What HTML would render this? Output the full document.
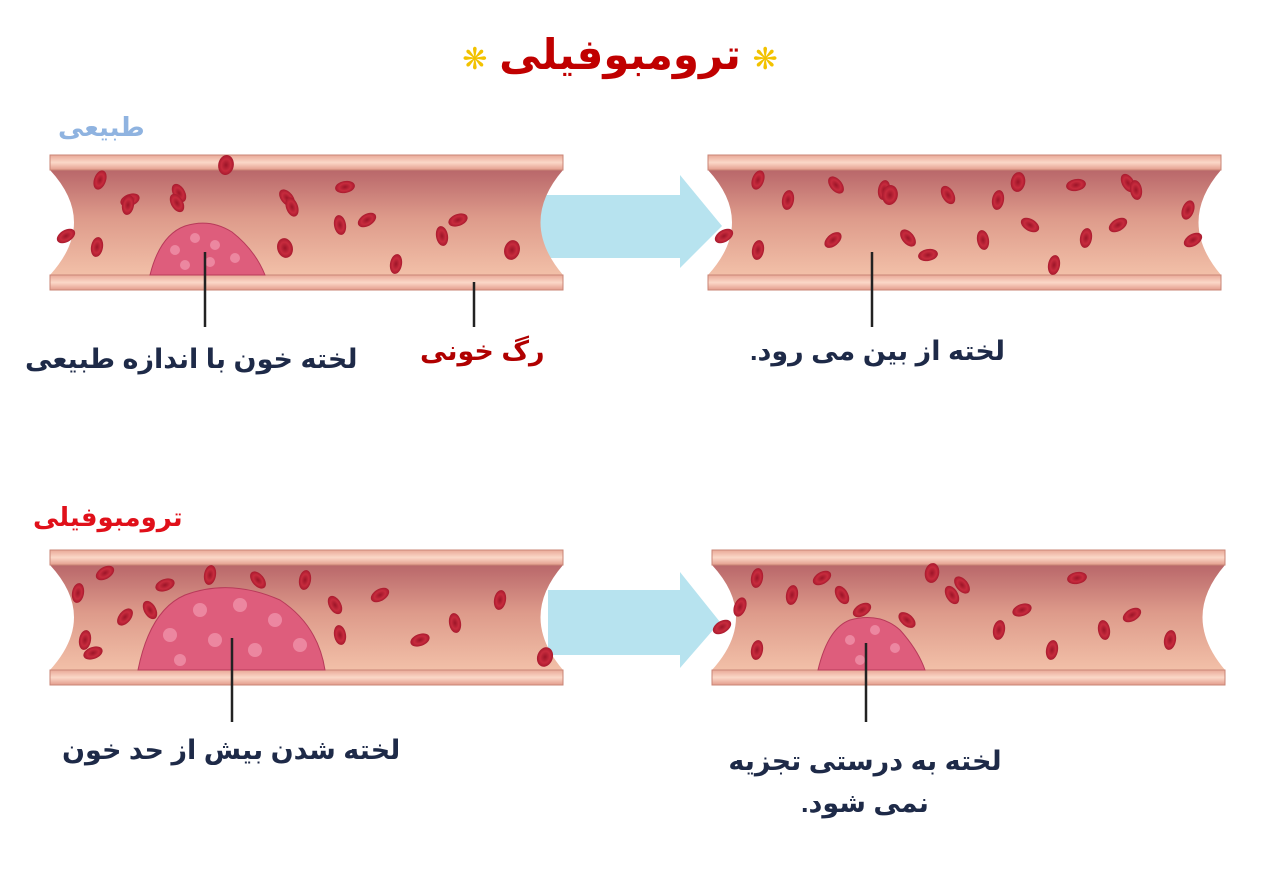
<!DOCTYPE html>
<html><head><meta charset="utf-8"><style>
body{margin:0;background:#fff;width:1262px;height:882px;overflow:hidden;font-family:"Liberation Sans","DejaVu Sans",sans-serif}
.t{position:absolute;font-weight:bold;white-space:nowrap;direction:rtl}
</style></head><body>
<svg width="1262" height="882" style="position:absolute;left:0;top:0">
<defs>
<linearGradient id="bd" x1="0" y1="0" x2="0" y2="1">
<stop offset="0" stop-color="#b9676a"/><stop offset="0.45" stop-color="#dd9a8a"/><stop offset="1" stop-color="#f2c0a8"/></linearGradient>
<linearGradient id="wl" x1="0" y1="0" x2="0" y2="1">
<stop offset="0" stop-color="#e9a897"/><stop offset="0.5" stop-color="#fbd8c8"/><stop offset="1" stop-color="#e39c8c"/></linearGradient>
<radialGradient id="rc"><stop offset="0" stop-color="#9c1528"/><stop offset="0.6" stop-color="#c72b3d"/><stop offset="1" stop-color="#a81a2e"/></radialGradient>
<g id="vessel">
<path d="M0,15 H513 Q468,67 513,120 H0 Q48,67 0,15Z" fill="url(#bd)"/>
<rect x="0" y="0" width="513" height="15" fill="url(#wl)" stroke="#c98576" stroke-width="1"/>
<rect x="0" y="120" width="513" height="15" fill="url(#wl)" stroke="#c98576" stroke-width="1"/>
</g>
<g id="c"><ellipse rx="6" ry="10" fill="url(#rc)"/></g>
</defs>

<path d="M540,195 H680 V175 L722,226 L680,268 V258 H540Z" fill="#b7e3ef"/>
<path d="M548,590 H680 V572 L720,622 L680,668 V655 H548Z" fill="#b7e3ef"/>

<use href="#vessel" x="50" y="155"/>
<use href="#vessel" x="708" y="155"/>
<use href="#vessel" x="50" y="550"/>
<use href="#vessel" x="712" y="550"/>

<g fill="#de5d7c" stroke="#b83a5a" stroke-width="1">
<path d="M150,275 Q160,235 185,226 Q210,218 232,232 Q255,250 265,275Z"/>
<path d="M138,670 Q150,610 185,595 Q230,578 280,600 Q318,625 325,670Z"/>
<path d="M818,670 Q828,628 850,620 Q880,612 900,630 Q918,650 925,670Z"/>
</g>
<g fill="#f29ab0" opacity="0.7">
<circle cx="175" cy="250" r="5"/><circle cx="195" cy="238" r="5"/><circle cx="215" cy="245" r="5"/><circle cx="235" cy="258" r="5"/><circle cx="185" cy="265" r="5"/><circle cx="210" cy="262" r="5"/>
<circle cx="170" cy="635" r="7"/><circle cx="200" cy="610" r="7"/><circle cx="240" cy="605" r="7"/><circle cx="275" cy="620" r="7"/><circle cx="300" cy="645" r="7"/><circle cx="215" cy="640" r="7"/><circle cx="255" cy="650" r="7"/><circle cx="180" cy="660" r="6"/>
<circle cx="850" cy="640" r="5"/><circle cx="875" cy="630" r="5"/><circle cx="895" cy="648" r="5"/><circle cx="860" cy="660" r="5"/>
</g>

<g>
<use href="#c" transform="translate(100,180) rotate(20)"/>
<use href="#c" transform="translate(130,200) rotate(70)"/>
<use href="#c" transform="translate(128,205) rotate(10)"/>
<use href="#c" transform="translate(97,247) rotate(10)"/>
<use href="#c" transform="translate(66,236) rotate(60)"/>
<use href="#c" transform="translate(179,193) rotate(-30)"/>
<use href="#c" transform="translate(226,165) rotate(10) scale(1.3,1)"/>
<use href="#c" transform="translate(287,198) rotate(-40)"/>
<use href="#c" transform="translate(292,207) rotate(-20)"/>
<use href="#c" transform="translate(177,203) rotate(-30)"/>
<use href="#c" transform="translate(285,248) rotate(-15) scale(1.3,1)"/>
<use href="#c" transform="translate(340,225) rotate(-10)"/>
<use href="#c" transform="translate(367,220) rotate(60)"/>
<use href="#c" transform="translate(345,187) rotate(80)"/>
<use href="#c" transform="translate(396,264) rotate(10)"/>
<use href="#c" transform="translate(442,236) rotate(-10)"/>
<use href="#c" transform="translate(458,220) rotate(70)"/>
<use href="#c" transform="translate(512,250) rotate(15) scale(1.3,1)"/>
</g>
<g transform="translate(658,0)">
<use href="#c" transform="translate(66,236) rotate(60)"/>
<use href="#c" transform="translate(100,180) rotate(20)"/>
<use href="#c" transform="translate(130,200) rotate(10)"/>
<use href="#c" transform="translate(100,250) rotate(10)"/>
<use href="#c" transform="translate(178,185) rotate(-40)"/>
<use href="#c" transform="translate(175,240) rotate(50)"/>
<use href="#c" transform="translate(226,190) rotate(10)"/>
<use href="#c" transform="translate(232,195) rotate(10) scale(1.3,1)"/>
<use href="#c" transform="translate(250,238) rotate(-40)"/>
<use href="#c" transform="translate(270,255) rotate(80)"/>
<use href="#c" transform="translate(290,195) rotate(-30)"/>
<use href="#c" transform="translate(325,240) rotate(-10)"/>
<use href="#c" transform="translate(340,200) rotate(10)"/>
<use href="#c" transform="translate(360,182) rotate(10) scale(1.2,1)"/>
<use href="#c" transform="translate(372,225) rotate(-60)"/>
<use href="#c" transform="translate(396,265) rotate(10)"/>
<use href="#c" transform="translate(418,185) rotate(80)"/>
<use href="#c" transform="translate(428,238) rotate(10)"/>
<use href="#c" transform="translate(470,183) rotate(-30)"/>
<use href="#c" transform="translate(478,190) rotate(-10)"/>
<use href="#c" transform="translate(460,225) rotate(60)"/>
<use href="#c" transform="translate(530,210) rotate(20)"/>
<use href="#c" transform="translate(535,240) rotate(60)"/>
</g>
<g transform="translate(0,395)">
<use href="#c" transform="translate(78,198) rotate(10)"/>
<use href="#c" transform="translate(105,178) rotate(60)"/>
<use href="#c" transform="translate(125,222) rotate(40)"/>
<use href="#c" transform="translate(85,245) rotate(10)"/>
<use href="#c" transform="translate(93,258) rotate(70)"/>
<use href="#c" transform="translate(150,215) rotate(-30)"/>
<use href="#c" transform="translate(165,190) rotate(70)"/>
<use href="#c" transform="translate(210,180) rotate(10)"/>
<use href="#c" transform="translate(258,185) rotate(-40)"/>
<use href="#c" transform="translate(305,185) rotate(10)"/>
<use href="#c" transform="translate(335,210) rotate(-30)"/>
<use href="#c" transform="translate(340,240) rotate(-10)"/>
<use href="#c" transform="translate(380,200) rotate(60)"/>
<use href="#c" transform="translate(420,245) rotate(70)"/>
<use href="#c" transform="translate(455,228) rotate(-10)"/>
<use href="#c" transform="translate(500,205) rotate(10)"/>
<use href="#c" transform="translate(545,262) rotate(20) scale(1.3,1)"/>
</g>
<g transform="translate(662,395)">
<use href="#c" transform="translate(60,232) rotate(60)"/>
<use href="#c" transform="translate(78,212) rotate(20)"/>
<use href="#c" transform="translate(95,183) rotate(10)"/>
<use href="#c" transform="translate(95,255) rotate(10)"/>
<use href="#c" transform="translate(130,200) rotate(10)"/>
<use href="#c" transform="translate(160,183) rotate(60)"/>
<use href="#c" transform="translate(180,200) rotate(-30)"/>
<use href="#c" transform="translate(200,215) rotate(60)"/>
<use href="#c" transform="translate(245,225) rotate(-50)"/>
<use href="#c" transform="translate(270,178) rotate(10) scale(1.2,1)"/>
<use href="#c" transform="translate(290,200) rotate(-30)"/>
<use href="#c" transform="translate(300,190) rotate(-40)"/>
<use href="#c" transform="translate(337,235) rotate(10)"/>
<use href="#c" transform="translate(360,215) rotate(70)"/>
<use href="#c" transform="translate(390,255) rotate(10)"/>
<use href="#c" transform="translate(415,183) rotate(80)"/>
<use href="#c" transform="translate(442,235) rotate(-10)"/>
<use href="#c" transform="translate(470,220) rotate(60)"/>
<use href="#c" transform="translate(508,245) rotate(10)"/>
</g>

<g stroke="#222" stroke-width="2.5">
<line x1="205" y1="252" x2="205" y2="327"/>
<line x1="474" y1="282" x2="474" y2="327"/>
<line x1="872" y1="252" x2="872" y2="327"/>
<line x1="232" y1="638" x2="232" y2="722"/>
<line x1="866" y1="643" x2="866" y2="722"/>
</g>
</svg>

<div class="t" style="left:450px;top:30px;width:340px;text-align:center;font-size:42px;color:#c00000;direction:ltr"><span style="color:#f2c200;font-size:30px">❋</span> <span style="direction:rtl;unicode-bidi:embed">ترومبوفیلی</span> <span style="color:#f2c200;font-size:30px">❋</span></div>
<div class="t" style="left:58px;top:112px;font-size:26px;color:#8fb3e0">طبیعی</div>
<div class="t" style="left:33px;top:502px;font-size:26px;color:#e0101a">ترومبوفیلی</div>
<div class="t" style="left:25px;top:344px;font-size:27px;color:#1e2a48">لخته خون با اندازه طبیعی</div>
<div class="t" style="left:420px;top:336px;font-size:27px;color:#b00000">رگ خونی</div>
<div class="t" style="left:750px;top:336px;font-size:27px;color:#1e2a48">لخته از بین می رود.</div>
<div class="t" style="left:62px;top:735px;font-size:27px;color:#1e2a48">لخته شدن بیش از حد خون</div>
<div class="t" style="left:725px;top:740px;width:280px;text-align:center;font-size:27px;line-height:42px;color:#1e2a48;white-space:normal">لخته به درستی تجزیه<br>نمی شود.</div>
</body></html>
